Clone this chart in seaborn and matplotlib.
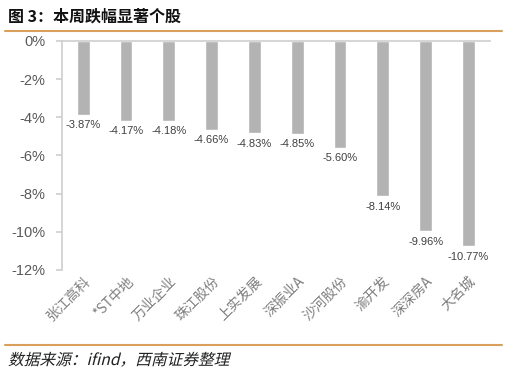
import matplotlib
matplotlib.use('Agg')
import pandas as pd
import seaborn as sns
import matplotlib.pyplot as plt
from matplotlib.lines import Line2D
from matplotlib.textpath import TextPath
from matplotlib.patches import PathPatch
from matplotlib.font_manager import FontProperties
from matplotlib.transforms import Affine2D, ScaledTranslation

stocks = ['张江高科', '*ST中地', '万业企业', '珠江股份', '上实发展',
          '深振业A', '沙河股份', '渝开发', '深深房A', '大名城']
changes = [-3.87, -4.17, -4.18, -4.66, -4.83, -4.85, -5.60, -8.14, -9.96, -10.77]
yticks = [0, -2, -4, -6, -8, -10, -12]

df = pd.DataFrame({'stock': stocks, 'change': changes})

sns.set_theme(style="white")
plt.rcParams['font.family'] = ['Noto Sans CJK SC', 'DejaVu Sans']

fig = plt.figure(figsize=(5.07, 3.76), dpi=100)
ax = fig.add_axes([0.122, 0.282, 0.844, 0.609])

sns.barplot(data=df, x='stock', y='change', color='#b3b3b3', width=0.3,
            saturation=1, ax=ax)

ax.set_ylim(-12, 0)
ax.set_xlim(-0.5, len(stocks) - 0.5)
ax.set_yticks(yticks)
ax.set_yticklabels([f'{v}%' for v in yticks], fontsize=10.5, color='#595959',
                   family=['Liberation Sans', 'DejaVu Sans'])
ax.set_xticks(range(len(stocks)))
ax.set_xticklabels(stocks, rotation=45, ha='right', rotation_mode='anchor',
                   fontsize=10, color='#7f7f7f', fontweight='light')
# nudge the rotated labels a little to the right
for lab in ax.get_xticklabels():
    lab.set_transform(lab.get_transform() + ScaledTranslation(5 / 72, 2 / 72, fig.dpi_scale_trans))
ax.set_xlabel('')
ax.set_ylabel('')

for s in ['right', 'bottom']:
    ax.spines[s].set_visible(False)
ax.spines['left'].set_color('#d0d0d0')
ax.spines['top'].set_color('#d0d0d0')
ax.tick_params(axis='y', length=4, color='#d0d0d0', pad=8, left=True)
ax.tick_params(axis='x', length=0, pad=3)

for i, v in enumerate(changes):
    ax.annotate(f'{v:.2f}%', (i, v), xytext=(0, -4), textcoords='offset points',
                ha='center', va='top', fontsize=8, color='#404040',
                family=['Liberation Sans', 'DejaVu Sans'])

fig.text(0.016, 0.955, '图 3：本周跌幅显著个股', fontsize=11.5, fontweight='bold',
         color='#111111', va='center')
fig.add_artist(Line2D([0.01, 0.99], [0.918, 0.918], color='#d9a05b', lw=1.5))
fig.add_artist(Line2D([0.01, 0.99], [0.083, 0.083], color='#d9a05b', lw=1.5))

# italic source line (CJK font has no italic, so shear the glyph outlines)
src = TextPath((0, 0), '数据来源：ifind，西南证券整理',
               prop=FontProperties(family=['Noto Sans CJK SC', 'DejaVu Sans'],
                                   size=11.3, weight='light'))
tr = Affine2D().skew_deg(14, 0).scale(fig.dpi / 72).translate(8, 11)
fig.add_artist(PathPatch(src, transform=tr, color='#222222', lw=0))

fig.savefig('out.png', dpi=100)
